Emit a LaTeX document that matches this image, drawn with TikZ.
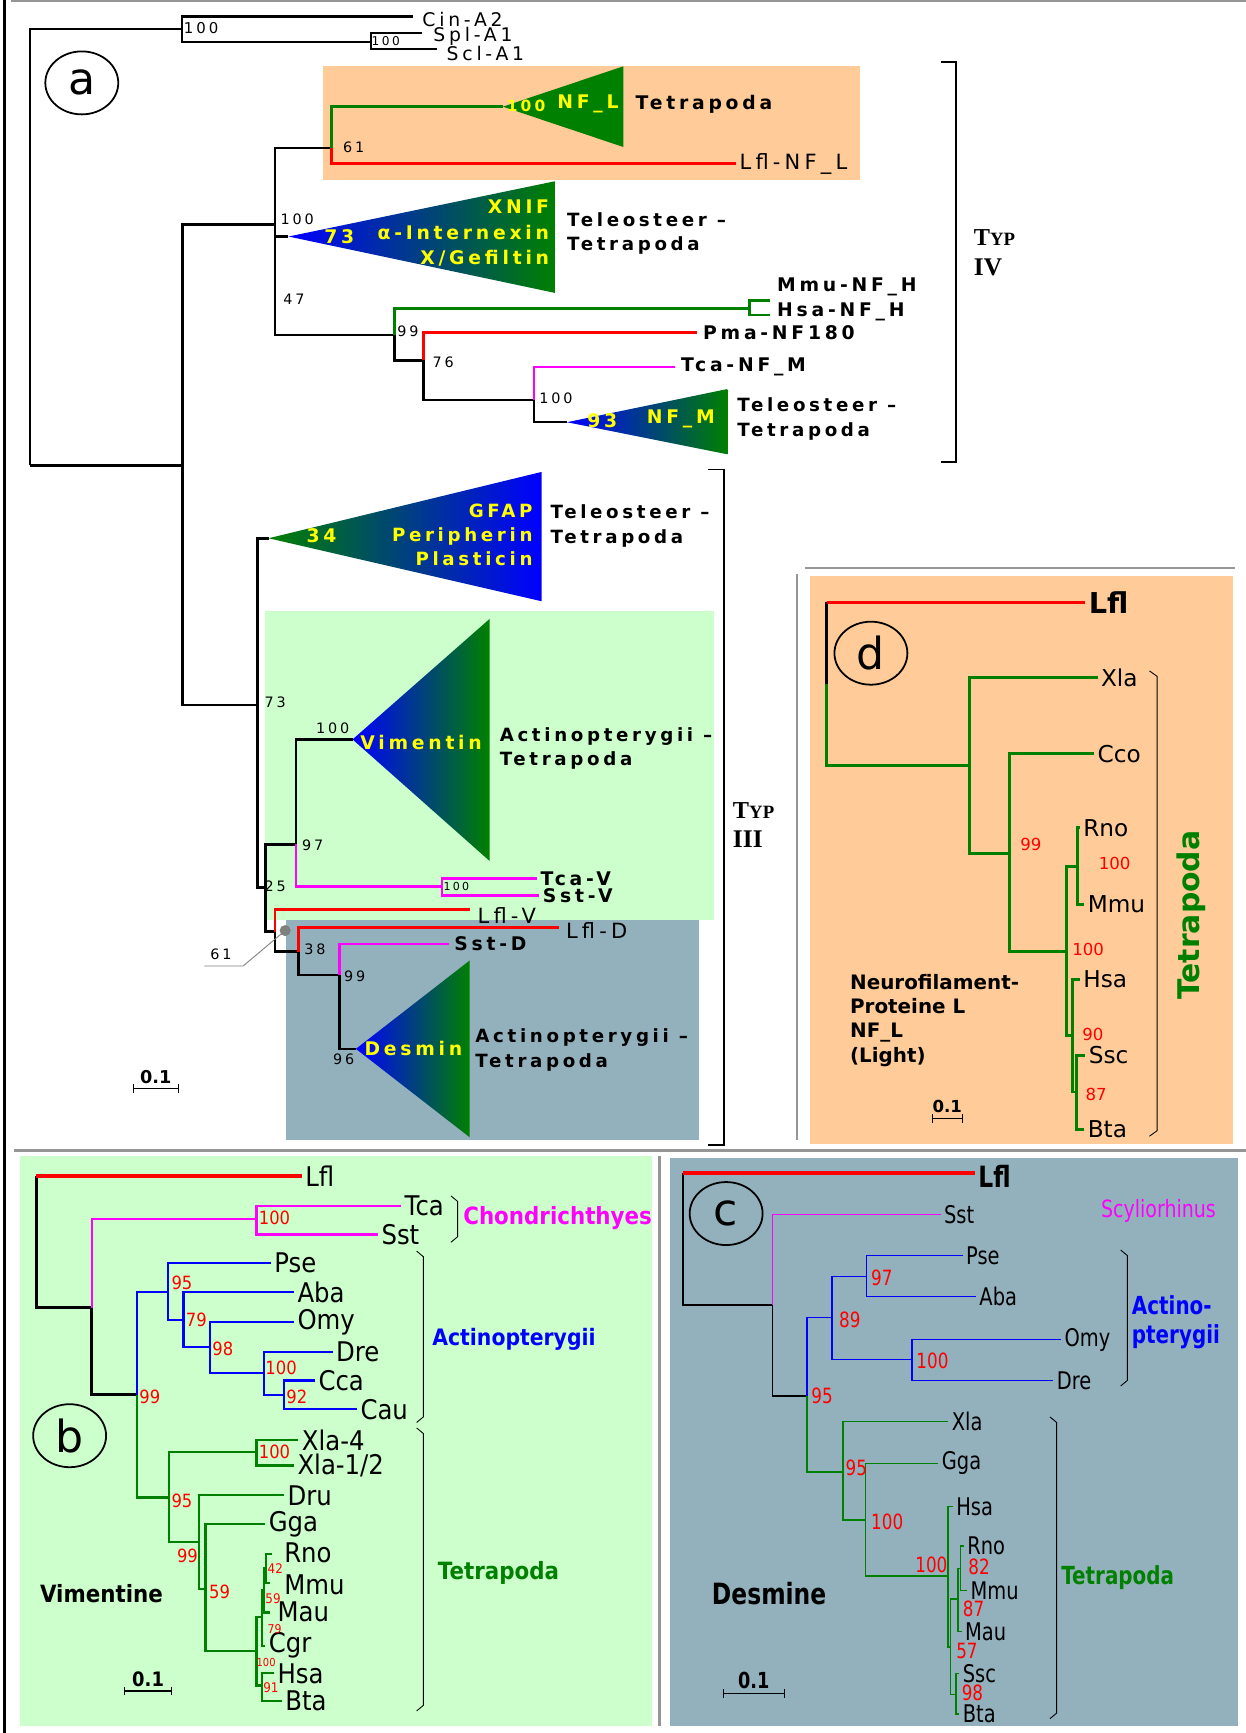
\documentclass[tikz,border=0pt]{standalone}
\usepackage{fontspec}
\setmainfont{DejaVu Sans}
\newfontfamily\fontA[LetterSpace=20]{DejaVu Sans}
\newfontfamily\fontB[FakeStretch=0.9]{DejaVu Sans}
\newfontfamily\fontC[FakeStretch=0.8]{DejaVu Sans}
\newfontfamily\fontTyp{Liberation Serif}
\usetikzlibrary{shapes.geometric, arrows.meta, positioning, calc}
\definecolor{treeG}{RGB}{0,128,0}
\definecolor{treeM}{RGB}{255,0,255}
\definecolor{bgOrange}{RGB}{255,204,153}
\definecolor{bgGreen}{RGB}{204,255,204}
\definecolor{bgSlate}{RGB}{147,177,188}
\definecolor{sepGray}{RGB}{150,150,150}
\definecolor{txtY}{RGB}{255,255,0}

\begin{document}
\begin{tikzpicture}[x=1pt, y=-1pt,
    brA/.style={line width=2.3pt},
    brB/.style={line width=2pt},
    brC/.style={line width=1.5pt},
    brD/.style={line width=2.6pt},
    sep/.style={draw=sepGray, line width=2.5pt},
    brk/.style={line width=0.8pt},
    tri/.style={left color=blue, right color=treeG},
    scalebar/.style={line width=1pt, {Bar[width=8pt]}-{Bar[width=8pt]}},
    circ/.style={ellipse, draw, line width=1.6pt, minimum width=66pt, minimum height=57pt, inner sep=0pt, font=\fontsize{40}{40}\selectfont},
    outA/.style={anchor=west, inner sep=0pt, font={\fontA\fontsize{17}{17}\selectfont}},
    lfA/.style={anchor=west, inner sep=3pt, font={\fontA\bfseries\fontsize{17}{22}\selectfont}},
    lfAr/.style={anchor=west, inner sep=0pt, font={\fontA\fontsize{19}{19}\selectfont}},
    numA/.style={inner sep=0pt, font={\fontA\fontsize{13}{13}\selectfont}},
    ylw/.style={inner sep=0pt, text=txtY, font={\fontA\bfseries\fontsize{17}{23}\selectfont}},
    cladeA/.style={anchor=west, align=left, inner sep=0pt, font={\fontA\bfseries\fontsize{16.5}{22}\selectfont}},
    typ/.style={anchor=west, inner sep=0pt, font=\fontTyp\bfseries},
    lfB/.style={anchor=west, inner sep=3pt, font={\fontB\fontsize{24.5}{24.5}\selectfont}},
    numB/.style={anchor=west, inner sep=0pt, text=red, font={\fontB\fontsize{16.5}{16.5}\selectfont}},
    lfC/.style={anchor=west, inner sep=3pt, font={\fontC\fontsize{22}{22}\selectfont}},
    numC/.style={anchor=west, inner sep=0pt, text=red, font={\fontC\fontsize{19}{19}\selectfont}},
    lfD/.style={anchor=west, inner sep=3pt, font=\fontsize{21}{21}\selectfont},
    numD/.style={anchor=west, inner sep=0pt, text=red, font=\fontsize{15}{15}\selectfont}
]
\useasboundingbox (0,0) rectangle (1127,1568);

% frames and backgrounds
\fill[bgOrange] (292,60) rectangle (778,163);
\fill[bgGreen] (240,553) rectangle (646,832);
\fill[bgSlate] (259,832) rectangle (632,1031);
\fill[bgOrange] (733,521) rectangle (1116,1035);
\fill[bgGreen] (18,1046) rectangle (590,1562);
\fill[bgSlate] (606,1048) rectangle (1120,1562);
\draw[sep] (10,1) -- (1127,1);
\draw[line width=2pt] (4,0) -- (4,1568);
\draw[sep] (13,1041) -- (1127,1041);
\draw[sep] (597,1046) -- (597,1562);
\draw[sep] (728,514) -- (1117,514);
\draw[sep] (721,519) -- (721,1031);

%%%%%%%%%% (a)
\node[circ] (aCirc) at (74,75) {a};

% outgroup
\coordinate (aRoot) at (27,421);
\coordinate (aOut) at (165,26.5);
\coordinate (aSc) at (336,38);
\coordinate (aIn) at (165,421);
\coordinate (aCinT) at (374,15);
\coordinate (aSplT) at (382,30);
\coordinate (aSclT) at (395,44.6);
\draw[brA, line width=2pt] (aRoot) |- (aOut);
\draw[brA] (aRoot) |- (aIn);
\draw[line width=2pt] (aOut) |- (aCinT);
\draw[line width=2pt] (aOut) |- (aSc);
\draw[line width=2pt] (aSc) |- (aSplT);
\draw[line width=2pt] (aSc) |- (aSclT);
\node[outA] (aCin) at (382,18) {Cin-A2};
\node[outA] (aSpl) at (392,33) {Spl-A1};
\node[outA] (aScl) at (404,48.5) {Scl-A1};
\node[numA, font={\fontA\fontsize{13.5}{13.5}\selectfont}] (aB1) at (182,25) {100};
\node[numA, font={\fontA\fontsize{11}{11}\selectfont}] (aB2) at (349,37.5) {100};

% type IV
\coordinate (aIV) at (249,203);
\coordinate (aIII) at (233,638);
\draw[brA] (aIn) |- (aIV);
\draw[brA] (aIn) |- (aIII);
\coordinate (aNFL) at (300,134);
\coordinate (aT73) at (261,214);
\coordinate (a99) at (357,303);
\draw[brA] (aIV) |- (aNFL);
\draw[brA] (aIV) |- (aT73);
\draw[brA] (aIV) |- (a99);

\coordinate (aTNFL) at (455,96.5);
\node[lfAr, inner sep=3pt] (aLflNFL) at (666,148) {Lfl-NF\_L};
\draw[brA, treeG] (aNFL) |- (aTNFL);
\draw[brA, red] (aNFL) |- (aLflNFL.west);
\fill[treeG] (aTNFL) -- (564,60) -- (564,133) -- cycle;
\node[ylw, font={\fontA\bfseries\fontsize{14}{14}\selectfont}] (aY100) at (476,96) {100};
\node[ylw, font={\fontA\bfseries\fontsize{17}{17}\selectfont}] (aYNFL) at (532,94) {NF\_L};
\node[lfA, inner sep=0pt] (aNFLTet) at (575,94) {Tetrapoda};
\node[numA] (aS61) at (320,133.5) {61};

\shade[tri] (aT73) -- (502,164) -- (502,265) -- cycle;
\node[ylw] (aY73) at (307,214) {73};
\node[ylw, align=right, anchor=east] (aYXNIF) at (497,211) {XNIF\\α-Internexin\\X/Gefiltin};
\node[cladeA] (a73Lab) at (513,211) {Teleosteer –\\Tetrapoda};
\node[numA] (aS100a) at (269,198) {100};
\node[numA] (aS47) at (266,270.5) {47};

\coordinate (aNFH) at (678,279);
\coordinate (a76) at (383,326);
\draw[brA, treeG] (a99) |- (aNFH);
\draw[brA] (a99) |- (a76);
\coordinate (aMmuT) at (697,272);
\coordinate (aHsaT) at (697,285);
\draw[brA, treeG] (aNFH) |- (aMmuT);
\draw[brA, treeG] (aNFH) |- (aHsaT);
\node[lfA, inner sep=0pt] (aMmu) at (703,260) {Mmu-NF\_H};
\node[lfA, inner sep=0pt] (aHsa) at (703,282) {Hsa-NF\_H};
\node[lfA, inner sep=5pt] (aPma) at (631,301) {Pma-NF180};
\draw[brA, red] (a76) |- (aPma.west);
\coordinate (a100m) at (483,362);
\draw[brA] (a76) |- (a100m);
\node[lfA, inner sep=5pt] (aTcaM) at (611,332) {Tca-NF\_M};
\draw[brA, treeM] (a100m) |- (aTcaM.west);
\coordinate (aTNFM) at (513,382);
\draw[brA] (a100m) |- (aTNFM);
\shade[tri] (aTNFM) -- (658,352) -- (658,411) -- cycle;
\node[ylw] (aY93) at (545,381) {93};
\node[ylw] (aYNFM) at (616,379) {NF\_M};
\node[cladeA] (aNFMLab) at (667,379) {Teleosteer –\\Tetrapoda};
\node[numA] (aS99) at (369,300) {99};
\node[numA] (aS76) at (401,328) {76};
\node[numA] (aS100b) at (503,360) {100};

% type III
\coordinate (aTGF) at (243,487);
\coordinate (a25) at (240,803);
\draw[brA] (aIII) |- (aTGF);
\draw[brA] (aIII) |- (a25);
\shade[left color=treeG, right color=blue] (aTGF) -- (490,427) -- (490,544) -- cycle;
\node[ylw] (aY34) at (291,485) {34};
\node[ylw, align=right, anchor=east, font={\fontA\bfseries\fontsize{16.5}{22}\selectfont}] (aYGF) at (482,484) {GFAP\\Peripherin\\Plasticin};
\node[cladeA] (aGFLab) at (498,476) {Teleosteer –\\Tetrapoda};
\node[numA] (aS73) at (249,635) {73};

\coordinate (a97) at (268,764);
\coordinate (a61) at (249,843);
\draw[brA] (a25) |- (a97);
\draw[brA] (a25) |- (a61);
\coordinate (aTVim) at (319,669);
\coordinate (aTS) at (400,802);
\draw[brA] (a97) |- (aTVim);
\draw[brA, treeM] (a97) |- (aTS);
\shade[tri] (aTVim) -- (443,560) -- (443,779) -- cycle;
\node[ylw] (aYVim) at (381,672) {Vimentin};
\node[cladeA] (aVimLab) at (452,677) {Actinopterygii –\\Tetrapoda};
\node[lfA] (aTcaV) at (486,795) {Tca-V};
\node[lfA] (aSstV) at (488,810) {Sst-V};
\draw[brA, treeM] (aTS) |- (aTcaV.west);
\draw[brA, treeM] (aTS) |- (aSstV.west);
\node[numA, font={\fontA\fontsize{10}{10}\selectfont}] (aS100c) at (413,802) {100};

\coordinate (aLflVT) at (425,823);
\coordinate (a38) at (270,861);
\draw[brA, red] (a61) |- (aLflVT);
\draw[brA] (a61) |- (a38);
\node[lfAr] (aLflV) at (432,828) {Lfl-V};
\coordinate (aLflDT) at (506,839);
\coordinate (a99d) at (307,882);
\draw[brA, red] (a38) |- (aLflDT);
\draw[brA] (a38) |- (a99d);
\node[lfAr] (aLflD) at (512,842) {Lfl-D};
\node[lfA, inner sep=5pt] (aSstD) at (406,854) {Sst-D};
\coordinate (aTDes) at (322,949);
\draw[brA, treeM] (a99d) |- (aSstD.west);
\draw[brA] (a99d) |- (aTDes);
\shade[tri] (aTDes) -- (425,869) -- (425,1029) -- cycle;
\node[ylw] (aYDes) at (374,949) {Desmin};
\node[cladeA] (aDesLab) at (430,950) {Actinopterygii –\\Tetrapoda};

\node[numA] (aS100d) at (301,659) {100};
\node[numA] (aS97) at (283,765) {97};
\node[numA] (aS25) at (249,802) {25};
\node[numA] (aS38) at (285,859) {38};
\node[numA] (aS99d) at (321,883) {99};
\node[numA] (aS96) at (311,958) {96};

% pointer for 61
\node[circle, fill=gray, inner sep=0pt, minimum size=10pt] (aDot) at (258,842) {};
\node[numA] (aS61b) at (200,863) {61};
\coordinate (aPtr) at (220,874);
\coordinate (aPtrEnd) at (185,874);
\draw[gray, line width=0.8pt] (aDot.center) -- (aPtr) -- (aPtrEnd);

% brackets type IV / III
\draw[line width=1.3pt] (851,56) -- (865,56) -- (865,418) -- (851,418);
\node[typ] (aTyp4) at (881,215) {\fontsize{22}{22}\selectfont T\fontsize{17}{17}\selectfont YP};
\node[typ, font={\fontTyp\bfseries\fontsize{23}{23}\selectfont}] (aIV4) at (881,242) {IV};
\draw[line width=1.3pt] (641,425) -- (655,425) -- (655,1036) -- (641,1036);
\node[typ] (aTyp3) at (663,733) {\fontsize{22}{22}\selectfont T\fontsize{17}{17}\selectfont YP};
\node[typ, font={\fontTyp\bfseries\fontsize{23}{23}\selectfont}] (aIII3) at (663,759) {III};

% scale
\coordinate (aBarL) at (120,985);
\coordinate (aBarR) at (162,985);
\draw[scalebar] (aBarL) -- (aBarR);
\node[inner sep=1pt, font={\bfseries\fontsize{16}{16}\selectfont}, above=3pt of $(aBarL)!0.5!(aBarR)$] (aScale) {0.1};

%%%%%%%%%% (d)
\node[circ] (dCirc) at (788,591) {d};
\coordinate (dRoot) at (748,545);
\node[lfD, font={\bfseries\fontsize{26}{26}\selectfont}] (dLfl) at (982,545) {Lfl};
\coordinate (dMid) at (748,619);
\coordinate (dX) at (877,693);
\draw[brD] (dRoot) -- (dMid);
\draw[brD, red, line width=3pt] (dRoot) -- (dLfl.west);
\draw[brD, treeG] (dMid) |- (dX);
\node[lfD] (dXla) at (993,613) {Xla};
\coordinate (dY) at (913,772);
\draw[brD, treeG] (dX) |- (dXla.west);
\draw[brD, treeG] (dX) |- (dY);
\node[lfD] (dCco) at (990,682) {Cco};
\coordinate (dZ) at (965,861);
\draw[brD, treeG] (dY) |- (dCco.west);
\draw[brD, treeG] (dY) |- (dZ);
\coordinate (dRM) at (975,784);
\coordinate (dHSB) at (970,937);
\draw[brD, treeG] (dZ) |- (dRM);
\draw[brD, treeG] (dZ) |- (dHSB);
\node[lfD] (dRno) at (977,749) {Rno};
\node[lfD] (dMmu) at (981,818) {Mmu};
\draw[brD, treeG] (dRM) |- (dRno.west);
\draw[brD, treeG] (dRM) |- (dMmu.west);
\node[lfD] (dHsa) at (977,886) {Hsa};
\coordinate (dSB) at (974,988);
\draw[brD, treeG] (dHSB) |- (dHsa.west);
\draw[brD, treeG] (dHSB) |- (dSB);
\node[lfD] (dSsc) at (982,955) {Ssc};
\node[lfD] (dBta) at (981,1022) {Bta};
\draw[brD, treeG] (dSB) |- (dSsc.west);
\draw[brD, treeG] (dSB) |- (dBta.west);
\node[numD] (dS99) at (923,764) {99};
\node[numD] (dS100a) at (994,781) {100};
\node[numD] (dS100b) at (970,859) {100};
\node[numD] (dS90) at (979,936) {90};
\node[numD] (dS87) at (982,990) {87};
\draw[brk] (1040,607) -- (1047,612) -- (1047,1023) -- (1040,1028);
\node[rotate=90, inner sep=0pt, text=treeG, font={\bfseries\fontsize{27}{27}\selectfont}] (dTet) at (1078,828) {Tetrapoda};
\node[anchor=west, align=left, inner sep=0pt, font={\bfseries\fontsize{18}{22}\selectfont}] (dName) at (769,923) {Neurofilament-\\Proteine L\\NF\_L\\(Light)};
\coordinate (dBarL) at (843,1012);
\coordinate (dBarR) at (871,1012);
\draw[scalebar] (dBarL) -- (dBarR);
\node[inner sep=1pt, font={\bfseries\fontsize{15}{15}\selectfont}, above=4pt of $(dBarL)!0.5!(dBarR)$] (dScale) {0.1};

%%%%%%%%%% (b)
\node[circ] (bCirc) at (63,1299) {b};
\coordinate (bRoot) at (33,1064);
\node[lfB] (bLfl) at (273,1064) {Lfl};
\coordinate (bA) at (83,1183);
\draw[brB, line width=2.4pt] (bRoot) |- (bA);
\draw[red, line width=4.2pt] (bRoot) -- (bLfl.west);
\coordinate (bCh) at (232,1103);
\coordinate (bB) at (124,1262);
\draw[brB, treeM] (bA) |- (bCh);
\draw[brB, line width=2.4pt] (bA) |- (bB);
\node[lfB] (bTca) at (363,1091) {Tca};
\node[lfB] (bSst) at (342,1117) {Sst};
\draw[brB, treeM] (bCh) |- (bTca.west);
\draw[brB, treeM] (bCh) |- (bSst.west);

\coordinate (bAc) at (152,1169);
\coordinate (bTe) at (153,1355);
\draw[brB, blue] (bB) |- (bAc);
\draw[brB, treeG] (bB) |- (bTe);
\node[lfB] (bPse) at (245,1143) {Pse};
\coordinate (bAc2) at (166,1194);
\draw[brB, blue] (bAc) |- (bPse.west);
\draw[brB, blue] (bAc) |- (bAc2);
\node[lfB] (bAba) at (266,1169) {Aba};
\coordinate (bAc3) at (190,1219);
\draw[brB, blue] (bAc2) |- (bAba.west);
\draw[brB, blue] (bAc2) |- (bAc3);
\node[lfB] (bOmy) at (266,1196) {Omy};
\coordinate (bAc4) at (239,1242);
\draw[brB, blue] (bAc3) |- (bOmy.west);
\draw[brB, blue] (bAc3) |- (bAc4);
\node[lfB] (bDre) at (301,1223) {Dre};
\coordinate (bAc5) at (257,1262);
\draw[brB, blue] (bAc4) |- (bDre.west);
\draw[brB, blue] (bAc4) |- (bAc5);
\node[lfB] (bCca) at (285,1249) {Cca};
\node[lfB] (bCau) at (323,1275) {Cau};
\draw[brB, blue] (bAc5) |- (bCca.west);
\draw[brB, blue] (bAc5) |- (bCau.west);

\coordinate (bX) at (232,1314);
\coordinate (bT2) at (180,1395);
\draw[brB, treeG] (bTe) |- (bX);
\draw[brB, treeG] (bTe) |- (bT2);
\node[lfB] (bXla4) at (270,1303) {Xla-4};
\node[lfB] (bXla12) at (266,1326) {Xla-1/2};
\draw[brB, treeG] (bX) |- (bXla4.west);
\draw[brB, treeG] (bX) |- (bXla12.west);
\node[lfB] (bDru) at (257,1353) {Dru};
\coordinate (bT3) at (186,1438);
\draw[brB, treeG] (bT2) |- (bDru.west);
\draw[brB, treeG] (bT2) |- (bT3);
\node[lfB] (bGga) at (240,1379) {Gga};
\coordinate (bT4) at (232,1494);
\draw[brB, treeG] (bT3) |- (bGga.west);
\draw[brB, treeG] (bT3) |- (bT4);
\coordinate (bT5) at (237,1463);
\coordinate (bHB) at (237,1525);
\draw[brB, treeG] (bT4) |- (bT5);
\draw[brB, treeG] (bT4) |- (bHB);
\coordinate (bT6) at (239,1439);
\node[lfB] (bCgr) at (240,1489) {Cgr};
\draw[brB, treeG] (bT5) |- (bT6);
\draw[brB, treeG] (bT5) |- (bCgr.west);
\coordinate (bRM) at (241,1419);
\coordinate (bMauT) at (244,1459);
\draw[brB, treeG] (bT6) |- (bRM);
\draw[brB, treeG] (bT6) |- (bMauT);
\coordinate (bRnoT) at (246,1406);
\coordinate (bMmuT) at (244,1432);
\draw[brB, treeG] (bRM) |- (bRnoT);
\draw[brB, treeG] (bRM) |- (bMmuT);
\node[lfB, inner sep=0pt] (bRno) at (257,1405) {Rno};
\node[lfB, inner sep=0pt] (bMmu) at (257,1434) {Mmu};
\node[lfB, inner sep=0pt] (bMau) at (251,1458) {Mau};
\node[lfB] (bHsa) at (248,1514) {Hsa};
\node[lfB] (bBta) at (255,1539) {Bta};
\draw[brB, treeG] (bHB) |- (bHsa.west);
\draw[brB, treeG] (bHB) |- (bBta.west);

\node[numB] (bS100a) at (234,1102) {100};
\node[numB] (bS99a) at (126,1264) {99};
\node[numB] (bS95a) at (155,1161) {95};
\node[numB] (bS79a) at (168,1194) {79};
\node[numB] (bS98) at (192,1220) {98};
\node[numB] (bS100b) at (240,1238) {100};
\node[numB] (bS92) at (259,1264) {92};
\node[numB] (bS100c) at (234,1314) {100};
\node[numB] (bS95b) at (155,1358) {95};
\node[numB] (bS99b) at (160,1408) {99};
\node[numB] (bS59a) at (189,1440) {59};
\node[numB, font={\fontB\fontsize{12}{12}\selectfont}] (bS42) at (242,1419) {42};
\node[numB, font={\fontB\fontsize{12}{12}\selectfont}] (bS59b) at (240,1446) {59};
\node[numB, font={\fontB\fontsize{11}{11}\selectfont}] (bS79b) at (242,1474) {79};
\node[numB, font={\fontB\fontsize{10}{10}\selectfont}] (bS100d) at (232,1504) {100};
\node[numB, font={\fontB\fontsize{12}{12}\selectfont}] (bS91) at (238,1527) {91};

\draw[brk] (408,1082) -- (414,1087) -- (414,1119) -- (408,1124);
\node[anchor=west, inner sep=0pt, text=treeM, font={\fontB\bfseries\fontsize{21.5}{21.5}\selectfont}] (bChL) at (419,1102) {Chondrichthyes};
\draw[brk] (377,1132) -- (383,1137) -- (383,1282) -- (377,1287);
\node[anchor=west, inner sep=0pt, text=blue, font={\fontB\bfseries\fontsize{20.5}{20.5}\selectfont}] (bAcL) at (391,1212) {Actinopterygii};
\draw[brk] (377,1292) -- (383,1297) -- (383,1543) -- (377,1548);
\node[anchor=west, inner sep=0pt, text=treeG, font={\fontB\bfseries\fontsize{21.5}{21.5}\selectfont}] (bTeL) at (396,1423) {Tetrapoda};
\node[anchor=west, inner sep=0pt, font={\fontB\bfseries\fontsize{21.5}{21.5}\selectfont}] (bName) at (36,1442) {Vimentine};
\coordinate (bBarL) at (112,1530);
\coordinate (bBarR) at (156,1530);
\draw[scalebar] (bBarL) -- (bBarR);
\node[inner sep=1pt, font={\fontB\bfseries\fontsize{18}{18}\selectfont}, above=3pt of $(bBarL)!0.5!(bBarR)$] (bScale) {0.1};

%%%%%%%%%% (c)
\node[circ] (cCirc) at (657,1098) {c};
\coordinate (cRoot) at (618,1061);
\node[lfC, font={\fontC\bfseries\fontsize{26.5}{26.5}\selectfont}] (cLfl) at (882,1064) {Lfl};
\coordinate (cA) at (699,1181);
\draw[brC] (cRoot) |- (cA);
\draw[red, line width=3.5pt] (cRoot) -- (cLfl.west |- cRoot);
\node[lfC] (cSst) at (851,1099) {Sst};
\coordinate (cB) at (730,1263);
\draw[brC, treeM] (cA) |- (cSst.west);
\draw[brC] (cA) |- (cB);
\coordinate (cAc) at (753,1192);
\coordinate (cTe) at (763,1332);
\draw[brC, blue] (cB) |- (cAc);
\draw[brC, treeG] (cB) |- (cTe);
\coordinate (cPA) at (784,1155);
\coordinate (cOD) at (825,1230);
\draw[brC, blue] (cAc) |- (cPA);
\draw[brC, blue] (cAc) |- (cOD);
\node[lfC] (cPse) at (871,1136) {Pse};
\node[lfC] (cAba) at (883,1173) {Aba};
\draw[brC, blue] (cPA) |- (cPse.west);
\draw[brC, blue] (cPA) |- (cAba.west);
\node[lfC] (cOmy) at (960,1212) {Omy};
\node[lfC] (cDre) at (953,1249) {Dre};
\draw[brC, blue] (cOD) |- (cOmy.west);
\draw[brC, blue] (cOD) |- (cDre.west);

\node[lfC] (cXla) at (858,1286) {Xla};
\coordinate (cT2) at (783,1375);
\draw[brC, treeG] (cTe) |- (cXla.west);
\draw[brC, treeG] (cTe) |- (cT2);
\node[lfC] (cGga) at (849,1324) {Gga};
\coordinate (cT3) at (858,1426);
\draw[brC, treeG] (cT2) |- (cGga.west);
\draw[brC, treeG] (cT2) |- (cT3);
\node[lfC] (cHsa) at (862,1363) {Hsa};
\coordinate (cM) at (860,1490);
\draw[brC, treeG] (cT3) |- (cHsa.west);
\draw[brC, treeG] (cT3) |- (cM);
\coordinate (cRMM) at (867,1447);
\coordinate (cSB) at (865,1533);
\draw[brC, treeG] (cM) |- (cRMM);
\draw[brC, treeG] (cM) |- (cSB);
\coordinate (cRM) at (869,1419);
\node[lfC] (cMau) at (870,1476) {Mau};
\draw[brC, treeG] (cRMM) |- (cRM);
\draw[brC, treeG] (cRMM) |- (cMau.west);
\node[lfC] (cRno) at (872,1399) {Rno};
\node[lfC] (cMmu) at (875,1439) {Mmu};
\draw[brC, treeG] (cRM) |- (cRno.west);
\draw[brC, treeG] (cRM) |- (cMmu.west);
\node[lfC] (cSsc) at (868,1514) {Ssc};
\node[lfC] (cBta) at (868,1551) {Bta};
\draw[brC, treeG] (cSB) |- (cSsc.west);
\draw[brC, treeG] (cSB) |- (cBta.west);

\node[numC] (cS95a) at (734,1263) {95};
\node[numC] (cS97) at (788,1156) {97};
\node[numC] (cS89) at (759,1194) {89};
\node[numC] (cS100a) at (829,1231) {100};
\node[numC] (cS95b) at (765,1328) {95};
\node[numC] (cS100b) at (788,1377) {100};
\node[numC] (cS100c) at (828,1416) {100};
\node[numC] (cS82) at (876,1418) {82};
\node[numC] (cS87) at (871,1456) {87};
\node[numC] (cS57) at (865,1494) {57};
\node[numC] (cS98) at (870,1532) {98};

\node[anchor=west, inner sep=0pt, text=treeM, font={\fontC\fontsize{21.5}{21.5}\selectfont}] (cScy) at (996,1096) {Scyliorhinus};
\draw[brk] (1014,1131) -- (1020,1136) -- (1020,1249) -- (1014,1254);
\node[anchor=west, align=left, inner sep=0pt, text=blue, font={\fontC\bfseries\fontsize{22.5}{26}\selectfont}] (cAcL) at (1024,1196) {Actino-\\pterygii};
\draw[brk] (950,1282) -- (956,1287) -- (956,1550) -- (950,1555);
\node[anchor=west, inner sep=0pt, text=treeG, font={\fontC\bfseries\fontsize{22.5}{22.5}\selectfont}] (cTeL) at (960,1427) {Tetrapoda};
\node[anchor=west, inner sep=0pt, font={\fontC\bfseries\fontsize{26.5}{26.5}\selectfont}] (cName) at (644,1442) {Desmine};
\coordinate (cBarL) at (654,1532);
\coordinate (cBarR) at (710,1532);
\draw[scalebar] (cBarL) -- (cBarR);
\node[inner sep=1pt, font={\fontC\bfseries\fontsize{20}{20}\selectfont}, above=3pt of $(cBarL)!0.5!(cBarR)$] (cScale) {0.1};
\end{tikzpicture}
\end{document}
